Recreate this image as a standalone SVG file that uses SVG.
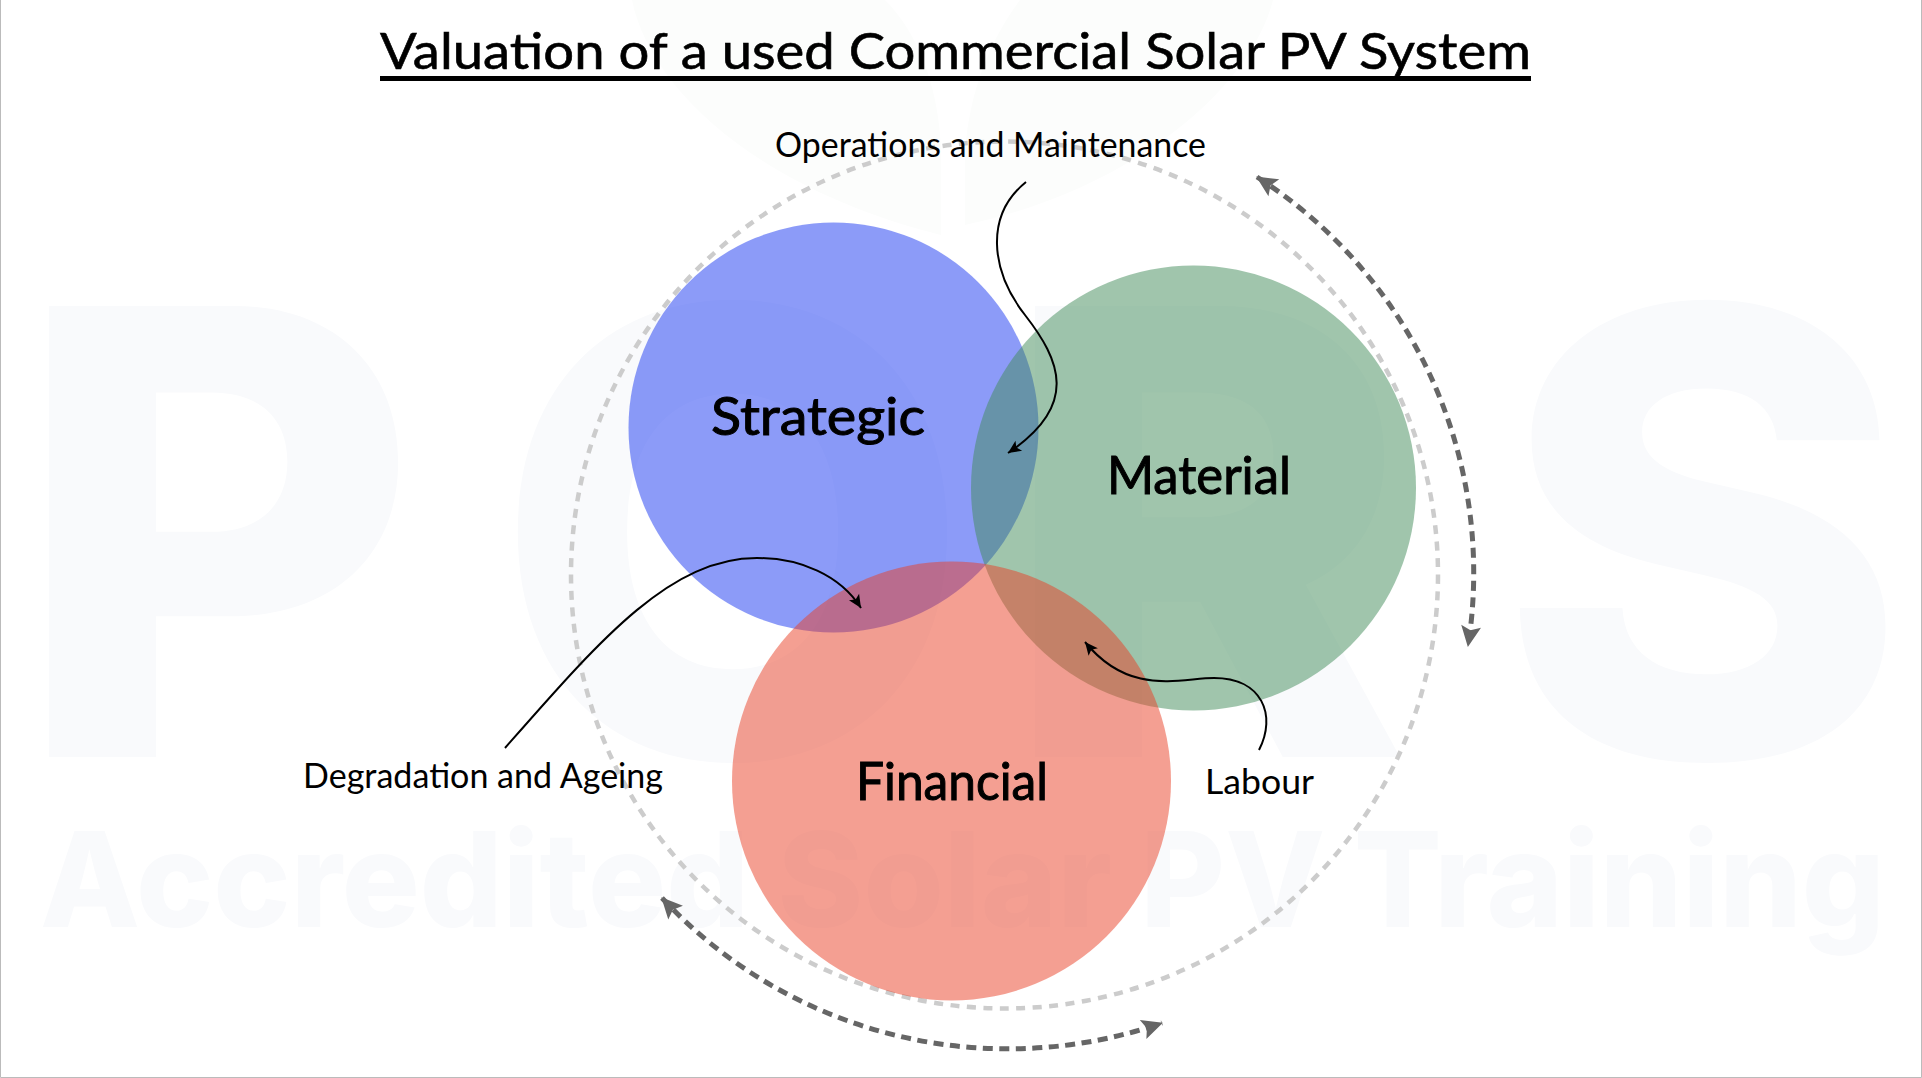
<svg xmlns="http://www.w3.org/2000/svg" width="1922" height="1078" viewBox="0 0 1922 1078">
  <style>
    .wm { font-family: Inter, "Liberation Sans", sans-serif; font-weight: 800; fill: #f9fafc; }
    .hand { font-family: Lato, "Open Sans", sans-serif; fill: #000; }
    .title { font-size: 50px; stroke: #000; stroke-width: .6px; }
    .label { font-size: 34px; }
    .name { font-size: 52px; stroke: #000; stroke-width: 1px; }
    .venn { fill-opacity: .5; }
    .guide { fill: none; stroke: #ccc; stroke-width: 4.5; stroke-dasharray: 9 7.5; }
    .cycle { fill: none; stroke: #666; stroke-width: 5; stroke-dasharray: 10 6.5; }
    .call { fill: none; stroke: #000; stroke-width: 2; }
  </style>
  <defs>
    <marker id="darkHead" markerUnits="userSpaceOnUse" markerWidth="24" markerHeight="24" refX="21" refY="11" orient="auto-start-reverse" viewBox="0 0 24 22">
      <path d="M22 11 L1 1 L5 11 L1 21 Z" fill="#666"/>
    </marker>
    <marker id="blackHead" markerUnits="userSpaceOnUse" markerWidth="16" markerHeight="14" refX="14" refY="6" orient="auto" viewBox="0 0 16 12">
      <path d="M14 6 L1 0 L4 6 L1 12 Z" fill="#000"/>
    </marker>
  </defs>
  <rect width="1922" height="1078" fill="#fff"/>
  <g id="watermark">
    <path d="M632 0 C650 90 760 190 941 235 L941 150 C938 80 915 30 885 0 Z" fill="#fcfdfc"/>
    <path d="M1273 0 C1250 90 1130 190 965 225 L965 150 C970 90 990 40 1020 0 Z" fill="#fcfdfc"/>
    <text class="wm" x="14" y="757" font-size="620">P</text>
    <text class="wm" x="493" y="757" font-size="620">O</text>
    <text class="wm" x="1000" y="757" font-size="620">R</text>
    <text class="wm" x="1498" y="757" font-size="620">S</text>
    <text class="wm" x="40" y="927" font-size="132" textLength="1845" lengthAdjust="spacingAndGlyphs">Accredited Solar PV Training</text>
  </g>
  <g id="frame">
    <path d="M.5 0 V1077.5 H1921.5 V0" fill="none" stroke="#bbb" stroke-width="1"/>
  </g>
  <g id="title">
    <text class="hand title" x="380" y="69" textLength="1151" lengthAdjust="spacingAndGlyphs">Valuation of a used Commercial Solar PV System</text>
    <rect x="380" y="76" width="1151" height="5" fill="#000"/>
  </g>
  <g id="guide-ring"><circle class="guide" cx="1004.5" cy="575" r="433.5"/></g>
  <g id="strategic">
    <circle class="venn" cx="833.5" cy="427.5" r="205" fill="#1937f1"/>
    <text class="hand name" x="711" y="435" textLength="214" lengthAdjust="spacingAndGlyphs">Strategic</text>
  </g>
  <g id="material">
    <circle class="venn" cx="1193.5" cy="488" r="222.5" fill="#418b59"/>
    <text class="hand name" x="1107" y="494" textLength="184" lengthAdjust="spacingAndGlyphs">Material</text>
  </g>
  <g id="financial">
    <circle class="venn" cx="951.5" cy="781" r="219.5" fill="#e93f25"/>
    <text class="hand name" x="856" y="800" textLength="192" lengthAdjust="spacingAndGlyphs">Financial</text>
  </g>
  <g id="connectors">
    <path class="cycle" d="M1257 177 A470 470 0 0 1 1468 646" marker-start="url(#darkHead)" marker-end="url(#darkHead)"/>
    <path class="cycle" d="M662 898 A472 472 0 0 0 1162 1023" marker-start="url(#darkHead)" marker-end="url(#darkHead)"/>
    <path class="call" d="M1026 182 C985 215 990 270 1025 315 C1060 360 1080 405 1008 453" marker-end="url(#blackHead)"/>
    <path class="call" d="M505 748 C600 640 670 558 757 558 C800 558 840 575 861 608" marker-end="url(#blackHead)"/>
    <path class="call" d="M1259 750 C1277 715 1262 678 1214 678 C1180 678 1130 697 1085 642" marker-end="url(#blackHead)"/>
  </g>
  <g id="operations-label"><text class="hand label" x="775" y="157" textLength="431" lengthAdjust="spacingAndGlyphs">Operations and Maintenance</text></g>
  <g id="degradation-label"><text class="hand label" x="303" y="788" textLength="360" lengthAdjust="spacingAndGlyphs">Degradation and Ageing</text></g>
  <g id="labour-label"><text class="hand label" x="1205" y="794" textLength="109" lengthAdjust="spacingAndGlyphs">Labour</text></g>
</svg>
